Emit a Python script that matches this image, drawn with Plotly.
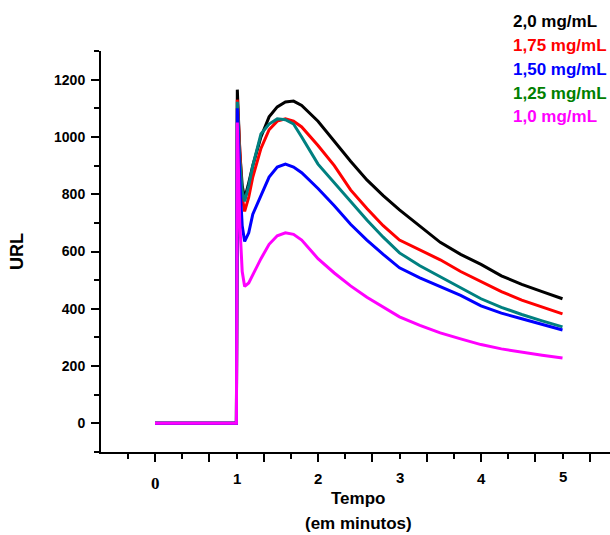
import plotly.graph_objects as go

# ---------------- data ----------------
tempo = [0.0, 0.999, 1.01, 1.04, 1.07, 1.10, 1.15, 1.20, 1.30, 1.40, 1.50, 1.60, 1.70, 1.80,
         2.00, 2.20, 2.40, 2.60, 2.80, 3.00, 3.25, 3.50, 3.75, 4.00, 4.25, 4.50, 4.75, 5.00]

url_20 = [0, 0, 1165, 950, 830, 785, 840, 900, 1000, 1070, 1105, 1122, 1125, 1110,
          1055, 985, 915, 850, 795, 745, 690, 632, 590, 555, 515, 485, 460, 435]
url_175 = [0, 0, 1130, 930, 790, 740, 790, 860, 960, 1025, 1055, 1063, 1055, 1035,
           970, 900, 815, 750, 690, 640, 605, 571, 530, 495, 460, 430, 405, 382]
url_150 = [0, 0, 1100, 850, 690, 635, 665, 730, 795, 860, 895, 905, 895, 875,
           820, 760, 695, 640, 590, 543, 508, 477, 447, 410, 385, 365, 345, 326]
url_125 = [0, 0, 1123, 920, 810, 775, 830, 900, 1010, 1045, 1063, 1060, 1045, 1000,
           905, 840, 775, 710, 650, 595, 550, 512, 472, 435, 405, 380, 358, 337]
url_10 = [0, 0, 1050, 700, 530, 478, 490, 520, 575, 625, 655, 665, 660, 640,
          575, 525, 480, 440, 405, 372, 342, 316, 295, 275, 260, 248, 238, 228]

series_names = ["2,0 mg/mL", "1,75 mg/mL", "1,50 mg/mL", "1,25 mg/mL", "1,0 mg/mL"]
line_colors = ["#000000", "#FF0000", "#0000FF", "#008080", "#FF00FF"]
label_colors = ["#000000", "#FF0000", "#0000FF", "#008000", "#FF00FF"]

x_tick_labels = ["0", "1", "2", "3", "4", "5"]
x_label_vals = [0, 1, 2, 3, 4, 5]
y_tick_vals = [0, 200, 400, 600, 800, 1000, 1200]

# ---------------- figure ----------------
W, H = 610, 535
ML, MR, MT, MB = 101, 0, 51, 83
PW, PH = W - ML - MR, H - MT - MB

def px_x(px):
    return (px - ML) / PW

def px_y(py):
    return (H - MB - py) / PH

SANS = "Liberation Sans, Arial, sans-serif"
SERIF = "Liberation Serif, Times New Roman, serif"

fig = go.Figure()
data_map = {"2,0 mg/mL": url_20, "1,75 mg/mL": url_175, "1,50 mg/mL": url_150,
            "1,25 mg/mL": url_125, "1,0 mg/mL": url_10}
draw_order = [0, 1, 3, 2, 4]
for i in draw_order:
    fig.add_trace(go.Scatter(
        x=tempo, y=data_map[series_names[i]], mode="lines",
        line=dict(color=line_colors[i], width=3),
        name=series_names[i], showlegend=False))

# x range: 0 min at 155 px, 81.5 px per minute
x0 = -(155 - ML) / 81.5
x1 = (W - MR - 155) / 81.5

fig.update_layout(
    width=W, height=H,
    margin=dict(l=ML, r=MR, t=MT, b=MB, pad=0),
    plot_bgcolor="white", paper_bgcolor="white",
    showlegend=False,
    font=dict(family=SANS, color="black"),
    xaxis=dict(
        range=[x0, x1], showgrid=False, zeroline=False,
        showline=True, linecolor="black", linewidth=2,
        ticks="outside", ticklen=8, tickwidth=1.5, tickcolor="black",
        tick0=0, dtick=2/3, showticklabels=False,
        minor=dict(ticks="outside", ticklen=5, tickwidth=1.5, tickcolor="black",
                   tick0=0, dtick=1/3, showgrid=False),
    ),
    yaxis=dict(
        range=[-100, 1300], showgrid=False, zeroline=False,
        showline=True, linecolor="black", linewidth=2,
        ticks="outside", ticklen=8, tickwidth=1.5, tickcolor="black",
        tickmode="array", tickvals=y_tick_vals, ticklabelstandoff=3,
        tickfont=dict(family=SANS, size=14, weight="bold", color="black"),
        minor=dict(ticks="outside", ticklen=5, tickwidth=1.5, tickcolor="black",
                   tick0=0, dtick=100, showgrid=False),
        title=dict(text="URL", font=dict(family=SANS, size=18, weight="bold"), standoff=26),
    ),
)

annotations = []
# x tick labels (overlaid, as in the original)
label_y_px = [483, 478, 479, 477, 479, 476]
for i, (v, t) in enumerate(zip(x_label_vals, x_tick_labels)):
    fam = SERIF if t == "0" else SANS
    size = 17 if t == "0" else 15
    annotations.append(dict(
        x=v, xref="x", y=px_y(label_y_px[i]), yref="paper",
        text="<b>%s</b>" % t, showarrow=False, xanchor="center", yanchor="middle",
        font=dict(family=fam, size=size, color="black")))

# x axis title (two lines)
annotations.append(dict(x=px_x(358), xref="paper", y=px_y(499), yref="paper",
                        text="<b>Tempo</b>", showarrow=False, xanchor="center",
                        yanchor="middle", font=dict(family=SANS, size=17, color="black")))
annotations.append(dict(x=px_x(358), xref="paper", y=px_y(523), yref="paper",
                        text="<b>(em minutos)</b>", showarrow=False, xanchor="center",
                        yanchor="middle", font=dict(family=SANS, size=17, color="black")))

# legend-like labels
legend_y_px = [21, 45, 69, 93, 116]
for name, col, ypx in zip(series_names, label_colors, legend_y_px):
    annotations.append(dict(x=px_x(511), xref="paper", y=px_y(ypx), yref="paper",
                            text="<b>%s</b>" % name, showarrow=False, xanchor="left",
                            yanchor="middle",
                            font=dict(family=SANS, size=17, color=col)))

fig.update_layout(annotations=annotations)

fig.write_html(
    "out.html",
    config={"displayModeBar": False},
    post_script="document.body.style.margin='0px';document.body.style.overflow='hidden';",
)
